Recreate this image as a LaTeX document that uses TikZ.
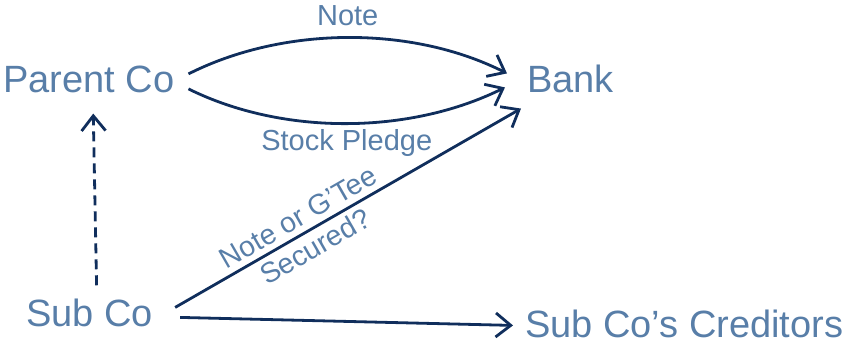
\documentclass[tikz,border=0pt]{standalone}
\usepackage{fontspec}
\setmainfont{Liberation Sans}
\usetikzlibrary{arrows.meta,calc}
\definecolor{txtblue}{RGB}{88,126,168}
\definecolor{navy}{RGB}{16,46,92}
\begin{document}
\begin{tikzpicture}[x=1pt,y=-1pt,
  ent/.style={inner sep=0pt, anchor=base west, text=txtblue, font=\fontsize{38}{45}\selectfont},
  lbl/.style={inner sep=0pt, text=txtblue, font=\fontsize{29}{35}\selectfont},
  conn/.style={draw=navy, line width=2.8pt, -{Straight Barb[length=15pt,width=24pt,line width=2.8pt]}},
  dashconn/.style={conn, dash pattern=on 10pt off 6pt},
]
\useasboundingbox (0,0) rectangle (847,345);

\node[ent] (parent) at (3,93) {Parent Co};
\node[ent] (bank) at (527,93) {Bank};
\node[ent] (sub) at (26,326) {Sub Co};
\node[ent] (cred) at (525,337) {Sub Co’s Creditors};

\draw[conn] ($(parent.east)+(14,-6)$) .. controls +(95,-48) and +(-95,-48) ..
  node[lbl, pos=0.5, above=10pt] {Note} ($(bank.west)+(-20,-6)$);
\draw[conn] ($(parent.east)+(14,9)$) .. controls +(95,47) and +(-95,47) ..
  node[lbl, pos=0.5, below=5pt] {Stock Pledge} ($(bank.west)+(-22,8)$);

\draw[dashconn] ($(sub.north)+(7,-13)$) -- ($(parent.south)+(4.5,20)$);

\draw[conn] ($(sub.east)+(22,-5)$) --
  node[lbl, sloped, pos=0.38, align=center, font=\fontsize{28.5}{34}\selectfont] {Note or G’Tee\\Secured?}
  ($(bank.south west)+(-6,15)$);

\draw[conn] ($(sub.east)+(27,5)$) -- ($(cred.west)+(-12,2)$);
\end{tikzpicture}
\end{document}
